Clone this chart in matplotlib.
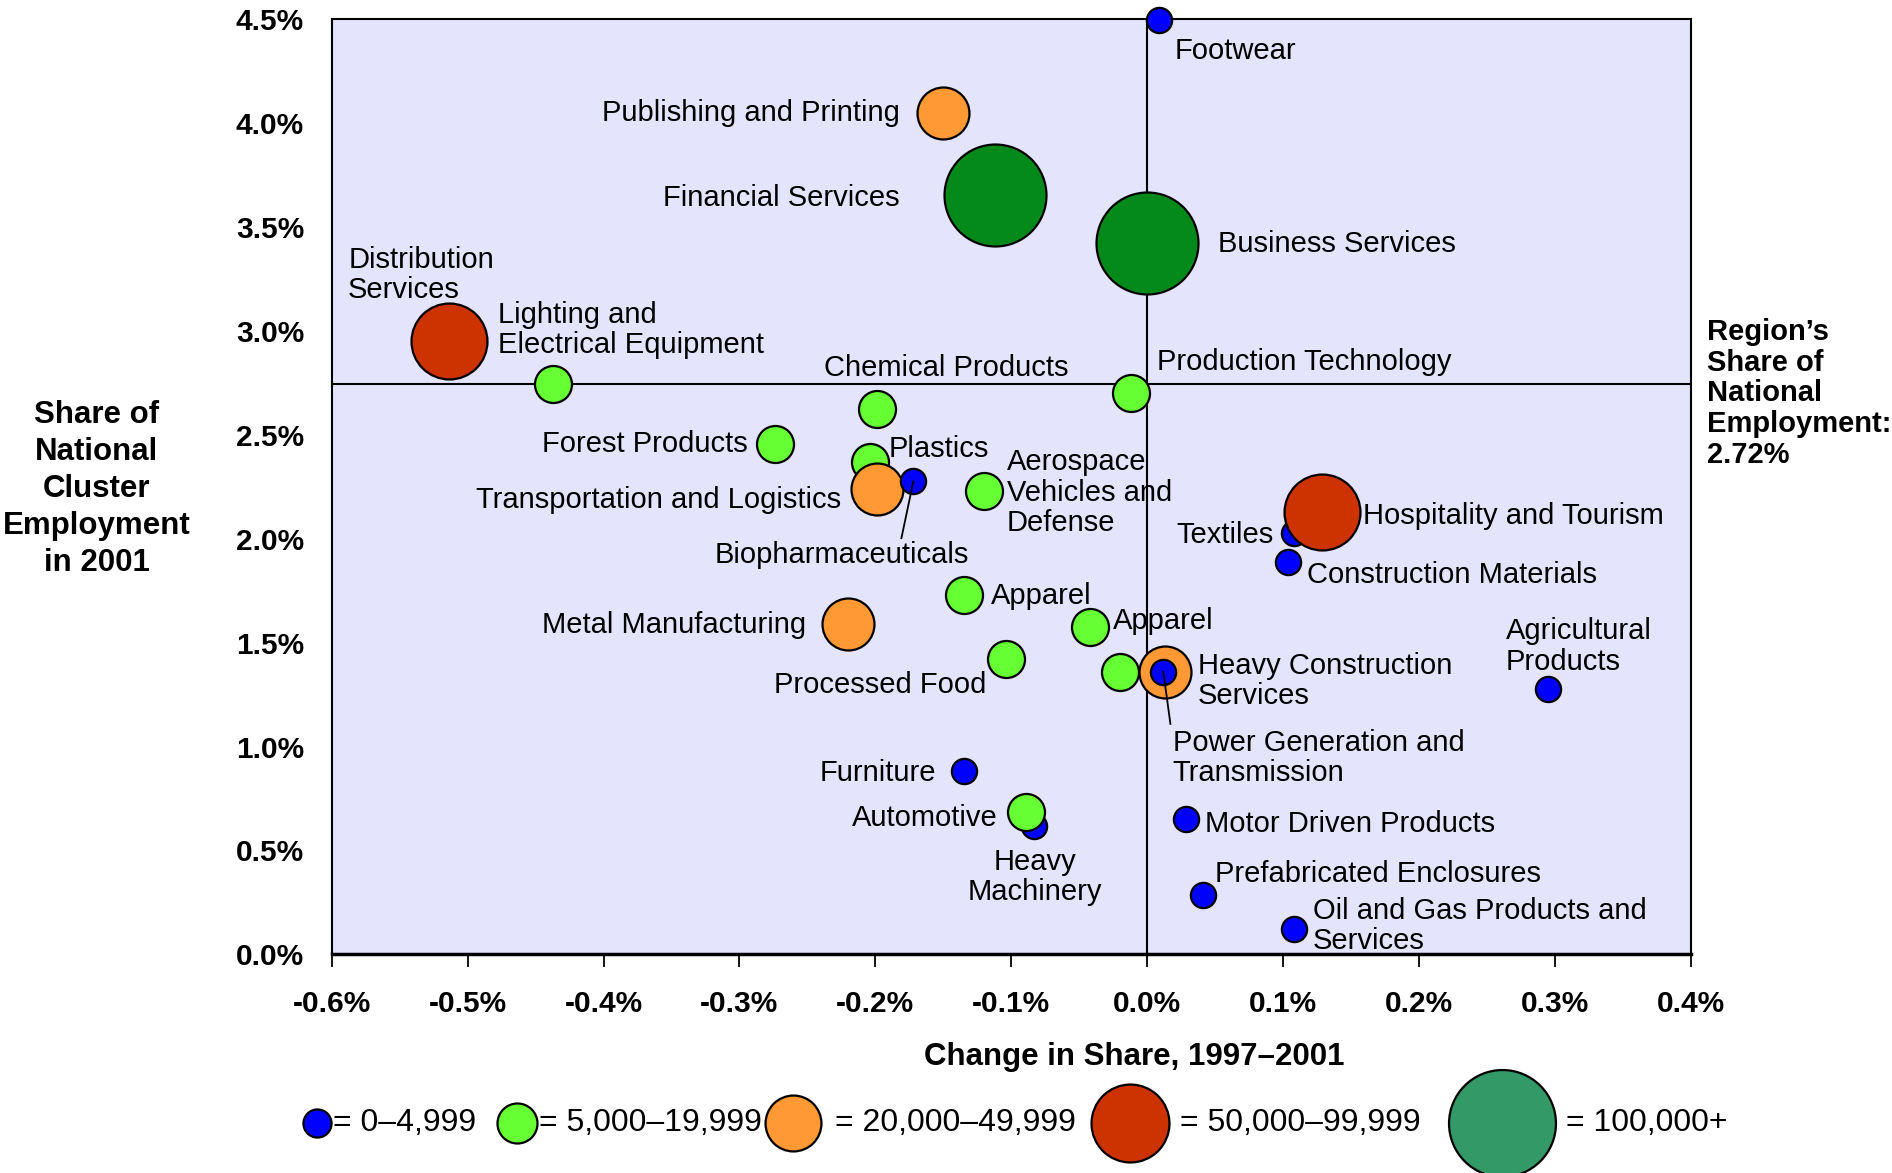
import matplotlib
matplotlib.use("Agg")
import matplotlib.pyplot as plt
from matplotlib.transforms import ScaledTranslation

plt.rcParams['font.family'] = ['Liberation Sans', 'DejaVu Sans']

# ---- data ----
clusters = [
    "Footwear", "Publishing and Printing", "Financial Services", "Business Services",
    "Distribution\nServices", "Lighting and\nElectrical Equipment", "Chemical Products",
    "Production Technology", "Forest Products", "Plastics", "Textiles",
    "Hospitality and Tourism", "Construction Materials", "Transportation and Logistics",
    "Biopharmaceuticals", "Aerospace\nVehicles and\nDefense", "Apparel", "Apparel",
    "Metal Manufacturing", "Processed Food", "", "Heavy Construction\nServices",
    "Power Generation and\nTransmission", "Agricultural\nProducts", "Furniture",
    "Heavy\nMachinery", "Automotive", "Motor Driven Products", "Prefabricated Enclosures",
    "Oil and Gas Products and\nServices",
]
change_share = [0.009, -0.150, -0.112, 0.000, -0.514, -0.437, -0.199, -0.012, -0.274, -0.204,
                0.108, 0.129, 0.104, -0.199, -0.172, -0.120, -0.135, -0.042, -0.220, -0.104,
                -0.020, 0.013, 0.012, 0.295, -0.135, -0.083, -0.089, 0.029, 0.041, 0.108]
share_2001 = [4.495, 4.048, 3.653, 3.426, 2.950, 2.747, 2.625, 2.700, 2.456, 2.369,
              2.027, 2.131, 1.887, 2.242, 2.276, 2.230, 1.731, 1.574, 1.591, 1.423,
              1.359, 1.359, 1.359, 1.278, 0.883, 0.616, 0.685, 0.650, 0.285, 0.122]
size_class = [0, 2, 4, 4, 3, 1, 1, 1, 1, 1,
              0, 3, 0, 2, 0, 1, 1, 1, 2, 1,
              1, 2, 0, 0, 0, 0, 1, 0, 0, 0]
class_labels = ["= 0\u20134,999", "= 5,000\u201319,999", "= 20,000\u201349,999",
                "= 50,000\u201399,999", "= 100,000+"]
region_share_label = "Region\u2019s\nShare of\nNational\nEmployment:\n2.72%"
region_line = 2.745
x_ticks = [-0.6, -0.5, -0.4, -0.3, -0.2, -0.1, 0.0, 0.1, 0.2, 0.3, 0.4]
y_ticks = [0.0, 0.5, 1.0, 1.5, 2.0, 2.5, 3.0, 3.5, 4.0, 4.5]

# ---- styles / layout ----
class_colors = ["#0000FF", "#66FF33", "#FF9933", "#CC3300", "#048A1A"]
legend_colors = ["#0000FF", "#66FF33", "#FF9933", "#CC3300", "#339966"]
class_sizes = [330, 710, 1400, 2990, 5390]
legend_sizes = [410, 830, 1620, 3150, 5930]
# label positions (data coords) and alignment
label_pos = [
    (0.020, 4.361, 'left'), (-0.182, 4.065, 'right'), (-0.182, 3.653, 'right'),
    (0.052, 3.432, 'left'), (-0.588, 3.284, 'left'), (-0.478, 3.017, 'left'),
    (-0.238, 2.834, 'left'), (0.0075, 2.863, 'left'), (-0.294, 2.468, 'right'),
    (-0.1905, 2.445, 'left'), (0.093, 2.033, 'right'), (0.159, 2.125, 'left'),
    (0.118, 1.841, 'left'), (-0.225, 2.201, 'right'), (-0.3185, 1.934, 'left'),
    (-0.103, 2.236, 'left'), (-0.115, 1.736, 'left'), (-0.0254, 1.620, 'left'),
    (-0.251, 1.597, 'right'), (-0.118, 1.312, 'right'), (0, 0, 'left'),
    (0.0376, 1.330, 'left'), (0.019, 0.958, 'left'), (0.264, 1.495, 'left'),
    (-0.155, 0.888, 'right'), (-0.0823, 0.386, 'center'), (-0.110, 0.668, 'right'),
    (0.043, 0.639, 'left'), (0.050, 0.401, 'left'), (0.122, 0.151, 'left'),
]
leaders = {"Biopharmaceuticals": (-0.1808, 2.003),
           "Power Generation and\nTransmission": (0.0172, 1.109)}

W, H = 1892, 1173
fig = plt.figure(figsize=(W / 100, H / 100), dpi=100)
ax = fig.add_axes([0.1754, 0.1864, 0.8935 - 0.1754, 0.9835 - 0.1864])
ax.set_facecolor("#E4E4FC")
ax.set_xlim(-0.6, 0.4)
ax.set_ylim(0.0, 4.5)

ax.axvline(0.0, color="black", lw=1.5, zorder=1)
ax.axhline(region_line, color="black", lw=1.5, zorder=1)

for i, (x, y, c) in enumerate(zip(change_share, share_2001, size_class)):
    ax.scatter([x], [y], s=class_sizes[c], c=class_colors[c], edgecolors="black",
               linewidths=1.6, zorder=3 + i * 0.01, clip_on=False)

label_shift = ax.transData + ScaledTranslation(0, -2 / 72, fig.dpi_scale_trans)
for name, (tx, ty, ha), x, y in zip(clusters, label_pos, change_share, share_2001):
    if not name:
        continue
    ax.text(tx, ty, name, ha=ha, va="center", fontsize=21, linespacing=1.1,
            multialignment='center' if ha == 'center' else 'left', zorder=5,
            transform=label_shift)
    if name in leaders:
        lx, ly = leaders[name]
        ax.plot([x, lx], [y, ly], color="black", lw=1.3, zorder=4)

ax.set_xticks(x_ticks)
ax.set_xticklabels([f"{v:.1f}%" for v in x_ticks], fontsize=21.5, fontweight="bold")
ax.set_yticks(y_ticks)
ax.set_yticklabels([f"{v:.1f}%" for v in y_ticks], fontsize=21.5, fontweight="bold")
ax.tick_params(axis="x", length=9, width=1.3, pad=17, direction="out")
ax.tick_params(axis="y", length=0, pad=20)
for s in ax.spines.values():
    s.set_linewidth(1.5)
ax.spines["bottom"].set_linewidth(2.5)

fig.text(0.051, 0.583, "Share of\nNational\nCluster\nEmployment\nin 2001", ha="center",
         va="center", fontsize=22.5, fontweight="bold", linespacing=1.3)
fig.text(0.9024, 0.6646, region_share_label, ha="left", va="center", fontsize=21,
         fontweight="bold", linespacing=1.13)
fig.text(0.5995, 0.099, "Change in Share, 1997\u20132001", ha="center", va="center",
         fontsize=22.5, fontweight="bold")

# legend row
lax = fig.add_axes([0, 0, 1, 1], facecolor="none")
lax.set_xlim(0, 1)
lax.set_ylim(0, 1)
lax.axis("off")
leg_marker_x = [0.1677, 0.273, 0.419, 0.597, 0.794]
leg_text_x = [0.176, 0.2851, 0.4413, 0.6237, 0.8278]
leg_y = 0.0422
for i in range(5):
    lax.scatter([leg_marker_x[i]], [leg_y], s=legend_sizes[i], c=legend_colors[i],
                edgecolors="black", linewidths=1.6, clip_on=False)
    lax.text(leg_text_x[i], leg_y, class_labels[i], ha="left", va="center", fontsize=23)

fig.savefig("out.png", dpi=100)
